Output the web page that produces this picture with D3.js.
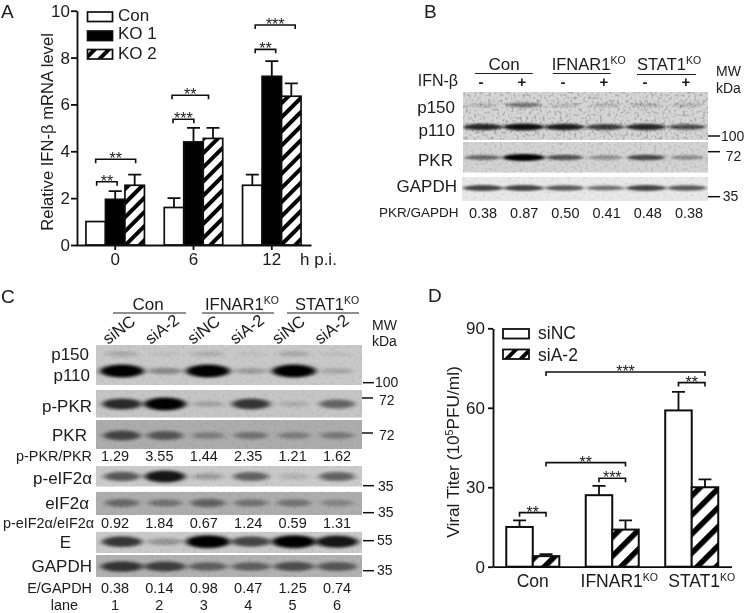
<!DOCTYPE html>
<html>
<head>
<meta charset="utf-8">
<script src="https://cdnjs.cloudflare.com/ajax/libs/d3/7.8.5/d3.min.js"></script>
<style>
html, body { margin: 0; padding: 0; background: #fff; }
svg { display: block; }
text { font-family: "Liberation Sans", Arial, sans-serif; fill: #1a1a1a; }
.axis path, .axis line { stroke: #111; stroke-width: 1.8; }
.axis text { font-size: 17px; }
</style>
</head>
<body>
<svg width="745" height="613"></svg>
<script>
//// panel A values
var hoursA = ["0", "6", "12"];
var seriesA = ["Con", "KO 1", "KO 2"];
var meanCon = [1, 1.6, 2.55];
var meanKo1 = [1.95, 4.4, 7.2];
var meanKo2 = [2.55, 4.55, 6.35];
var errCon = [1, 2.0, 3.0];
var errKo1 = [2.3, 5.0, 7.85];
var errKo2 = [3.0, 5.0, 6.9];
var bracketsA = [
  [0, 0.05, 1.1, 2.7, "**"], [0, 0, 2.05, 3.66, "**"],
  [1, -0.05, 1.02, 5.37, "***"], [1, -0.1, 1.77, 6.39, "**"],
  [2, 0.15, 1.2, 8.35, "**"], [2, 0.15, 2.2, 9.39, "***"]
];

//// panel D values
var groupsD = ["Con", "IFNAR1", "STAT1"];
var seriesD = ["siNC", "siA-2"];
var meanNC = [15, 27, 59];
var meanSi = [4, 14, 30];
var errNC = [17.5, 30.5, 66];
var errSi = [4.7, 17.5, 33];
// from group, bar, to group, bar, level, stars
var bracketsD = [
  [0, 0, 0, 1, 20.4, "**"], [1, 0, 1, 1, 33.4, "***"], [0, 1, 1, 1, 39.3, "**"],
  [2, 0, 2, 1, 69.5, "**"], [0, 1, 2, 1, 73.5, "***"]
];

//// panel B blot
var groupsB = ["Con", "IFNAR1", "STAT1"];
var signsB = ["-", "+", "-", "+", "-", "+"];
var p150B = [0.14, 0.42, 0.1, 0.12, 0.16, 0.14];
var p110B = [0.8, 0.92, 0.85, 0.7, 0.8, 0.62];
var pkrB = [0.5, 1, 0.6, 0.32, 0.65, 0.32];
var gapdhB = [0.7, 0.7, 0.6, 0.5, 0.7, 0.6];
var ratioB = ["0.38", "0.87", "0.50", "0.41", "0.48", "0.38"];

//// panel C blot
var lanesC = ["siNC", "siA-2", "siNC", "siA-2", "siNC", "siA-2"];
var p150C = [0.14, 0.02, 0.12, 0.02, 0.14, 0.02];
var p110C = [1, 0.3, 1, 0.2, 1, 0.15];
var pPkrC = [0.78, 1, 0.15, 0.72, 0.1, 0.48];
var pkrC = [0.6, 0.5, 0.25, 0.32, 0.25, 0.28];
var pEifC = [0.55, 0.9, 0.2, 0.5, 0.1, 0.5];
var eifC = [0.38, 0.32, 0.42, 0.32, 0.32, 0.22];
var eC = [0.72, 0.25, 1, 0.65, 1, 0.9];
var gapdhC = [0.7, 0.65, 0.45, 0.45, 0.55, 0.5];
var ratioPkr = ["1.29", "3.55", "1.44", "2.35", "1.21", "1.62"];
var ratioEif = ["0.92", "1.84", "0.67", "1.24", "0.59", "1.31"];
var ratioE = ["0.38", "0.14", "0.98", "0.47", "1.25", "0.74"];
var laneNo = ["1", "2", "3", "4", "5", "6"];

var svg = d3.select("svg");
var defs = svg.append("defs");

function hatch(id, period, w) {
  var p = defs.append("pattern").attr("id", id)
    .attr("patternUnits", "userSpaceOnUse")
    .attr("width", period).attr("height", period)
    .attr("patternTransform", "rotate(45)");
  p.append("rect").attr("width", period).attr("height", period).attr("fill", "#fff");
  p.append("rect").attr("width", w).attr("height", period).attr("fill", "#000");
}
hatch("hatchA", 10, 4);
hatch("hatchD", 13.5, 5.5);

defs.append("filter").attr("id", "soft").attr("x", "0").attr("y", "0").attr("width", "100%").attr("height", "100%")
  .append("feGaussianBlur").attr("stdDeviation", 0.35);
defs.append("filter").attr("id", "band").attr("x", "-30%").attr("y", "-100%").attr("width", "160%").attr("height", "300%")
  .append("feGaussianBlur").attr("stdDeviation", "3 1.4");
defs.append("filter").attr("id", "bandThin").attr("x", "-30%").attr("y", "-100%").attr("width", "160%").attr("height", "300%")
  .append("feGaussianBlur").attr("stdDeviation", "2 0.8");

// speckle over the blots
var sp = defs.append("filter").attr("id", "speckle").attr("x", "0").attr("y", "0").attr("width", "100%").attr("height", "100%");
sp.append("feTurbulence").attr("type", "fractalNoise").attr("baseFrequency", 0.35).attr("numOctaves", 2).attr("seed", 4);
sp.append("feColorMatrix").attr("values", "0 0 0 0 0  0 0 0 0 0  0 0 0 0 0  2.6 0 0 0 -1.25");

var root = svg.append("g").attr("filter", "url(#soft)");

function label(parent, str, x, y, size, anchor) {
  return parent.append("text").attr("x", x).attr("y", y)
    .style("font-size", size + "px")
    .attr("text-anchor", anchor || "start")
    .text(str);
}

// name with the small KO on top
function koLabel(parent, str, x, y, size) {
  var t = label(parent, str, x, y, size);
  t.append("tspan").attr("dy", -6).style("font-size", "10.5px").text("KO");
  return t;
}

function bracket(parent, x0, x1, y, stars) {
  parent.append("path")
    .attr("d", "M" + x0 + "," + (y + 4) + "V" + y + "H" + x1 + "V" + (y + 4))
    .attr("fill", "none").attr("stroke", "#111").attr("stroke-width", 1.6);
  label(parent, stars, (x0 + x1) / 2, y + 5, 16, "middle");
}

function errorBar(parent, cx, y0, y1, cap) {
  parent.append("path")
    .attr("d", "M" + cx + "," + y0 + "V" + y1 + "M" + (cx - cap) + "," + y1 + "H" + (cx + cap))
    .attr("fill", "none").attr("stroke", "#111").attr("stroke-width", 1.8);
}

///// PANEL A

var gA = root.append("g");
var yA = d3.scaleLinear().domain([0, 10]).range([245, 10.7]);
var xA = d3.scaleBand().domain(hoursA).range([76, 311]).paddingInner(0.253).paddingOuter(0.127);
var subA = d3.scaleBand().domain(seriesA).range([0, xA.bandwidth()]);
var fillA = d3.scaleOrdinal().domain(seriesA).range(["#fff", "#000", "url(#hatchA)"]);
var meansA = [meanCon, meanKo1, meanKo2];
var errsA = [errCon, errKo1, errKo2];

seriesA.forEach(function(s, si) {
  hoursA.forEach(function(h, i) {
    var bx = xA(h) + subA(s), bw = subA.bandwidth();
    if (errsA[si][i] > meansA[si][i]) errorBar(gA, bx + bw / 2, yA(meansA[si][i]), yA(errsA[si][i]), 6.5);
    gA.append("rect").attr("x", bx).attr("y", yA(meansA[si][i]))
      .attr("width", bw).attr("height", yA(0) - yA(meansA[si][i]))
      .attr("fill", fillA(s)).attr("stroke", "#111").attr("stroke-width", 1.7);
  });
});

gA.append("g").attr("class", "axis").attr("transform", "translate(77,0)")
  .call(d3.axisLeft(yA).tickValues([0, 2, 4, 6, 8, 10]).tickSize(6).tickPadding(1).tickSizeOuter(0));
gA.append("g").attr("class", "axis").attr("transform", "translate(0,245)")
  .call(d3.axisBottom(xA).tickSize(5).tickSizeOuter(0));
gA.selectAll(".axis text").style("font-size", "17px");

bracketsA.forEach(function(b) {
  var bw = subA.bandwidth(), x0 = xA(hoursA[b[0]]);
  bracket(gA, x0 + bw * (b[1] + 0.5), x0 + bw * (b[2] + 0.5), yA(b[3]), b[4]);
});

var legA = [[12, 20.7], [31, 39.3], [49.5, 59.3]];
seriesA.forEach(function(s, i) {
  gA.append("rect").attr("x", 87.5).attr("y", legA[i][0]).attr("width", 25).attr("height", 9.5)
    .attr("fill", fillA(s)).attr("stroke", "#111").attr("stroke-width", 1.7);
  label(gA, s, 118, legA[i][1], 17);
});

label(gA, "h p.i.", 300, 265, 17);
label(gA, "Relative IFN-\u03b2 mRNA level", 0, 0, 16.6, "middle")
  .attr("transform", "translate(53,132) rotate(-90)");
label(root, "A", 1, 17.5, 19);

///// BLOTS

var bandOpacity = d3.scaleLinear().domain([0, 1]).range([0.03, 1]);

function blotRow(parent, x0, x1, top, bottom, bg, speckle, bands, lane, rx, ryScale, blur) {
  var id = "clip" + Math.round(x0) + "_" + Math.round(top);
  defs.append("clipPath").attr("id", id).append("rect")
    .attr("x", x0).attr("y", top).attr("width", x1 - x0).attr("height", bottom - top);
  var g = parent.append("g").attr("clip-path", "url(#" + id + ")");
  g.append("rect").attr("x", x0).attr("y", top).attr("width", x1 - x0).attr("height", bottom - top).attr("fill", bg);
  g.append("rect").attr("x", x0).attr("y", top).attr("width", x1 - x0).attr("height", bottom - top)
    .attr("filter", "url(#speckle)").attr("opacity", speckle);
  bands.forEach(function(b) {
    g.selectAll(null).data(b.values).enter().append("ellipse")
      .attr("cx", function(d, i) { return lane(i); })
      .attr("cy", b.y)
      .attr("rx", function(d) { return rx * (0.75 + 0.3 * d); })
      .attr("ry", function(d) { return ryScale(d); })
      .attr("fill", "#000")
      .attr("opacity", function(d) { return bandOpacity(d); })
      .attr("filter", "url(#" + (blur || "band") + ")");
  });
}

function mwTick(parent, x0, x1, y, str, tx, ty) {
  parent.append("line").attr("x1", x0).attr("x2", x1).attr("y1", y).attr("y2", y)
    .attr("stroke", "#111").attr("stroke-width", 1.5);
  label(parent, str, tx, ty, 14);
}

function headerLine(parent, x0, x1, y) {
  parent.append("line").attr("x1", x0).attr("x2", x1).attr("y1", y).attr("y2", y)
    .attr("stroke", "#222").attr("stroke-width", 1.2);
}

///// PANEL B

var gB = root.append("g");
var laneB = d3.scalePoint().domain(d3.range(6)).range([483, 687]);
var signX = d3.scalePoint().domain(d3.range(6)).range([481, 686]);
var ratioXB = d3.scalePoint().domain(d3.range(6)).range([483, 689]);
var ryB = d3.scaleLinear().domain([0, 1]).range([1.5, 3.6]);

blotRow(gB, 463, 708, 92, 140, "#d6d6d6", 0.28, [{y: 105, values: p150B}, {y: 127, values: p110B}], laneB, 20, ryB, "bandThin");
blotRow(gB, 463, 708, 142, 172.7, "#d4d4d4", 0.14, [{y: 157.5, values: pkrB}], laneB, 20, ryB, "bandThin");
blotRow(gB, 462, 708, 177, 201, "#e9e9e9", 0.08, [{y: 188, values: gapdhB}], laneB, 21, ryB, "bandThin");

label(gB, groupsB[0], 504, 69.5, 17, "middle");
koLabel(gB, groupsB[1], 551.7, 69.5, 16.5);
koLabel(gB, groupsB[2], 637, 69.5, 16.5);
headerLine(gB, 475, 532.7, 73.5);
headerLine(gB, 552.7, 610.7, 73.5);
headerLine(gB, 637, 696, 74.5);

label(gB, "IFN-\u03b2", 458, 86, 16, "end");
signsB.forEach(function(s, i) {
  label(gB, s, signX(i), 87, 15, "middle").style("font-weight", "bold");
});

label(gB, "p150", 455, 112.7, 17, "end");
label(gB, "p110", 455, 136, 17, "end");
label(gB, "PKR", 453, 165.7, 17, "end");
label(gB, "GAPDH", 457, 191.7, 17, "end");
label(gB, "PKR/GAPDH", 458.5, 217, 13.5, "end");
ratioB.forEach(function(r, i) { label(gB, r, ratioXB(i), 218, 14.5, "middle"); });

label(gB, "MW", 716, 76, 14);
label(gB, "kDa", 716, 92.7, 14);
mwTick(gB, 708, 720, 136, "100", 721, 141);
mwTick(gB, 708, 720, 151.7, "72", 725.7, 160.7);
mwTick(gB, 708, 720, 196.7, "35", 722.7, 201);
label(root, "B", 424, 17.5, 19);

///// PANEL C

var gC = root.append("g");
var laneC = d3.scalePoint().domain(d3.range(6)).range([122, 337]);
var textC = d3.scalePoint().domain(d3.range(6)).range([115, 337]);
var rotC = d3.scalePoint().domain(d3.range(6)).range([108, 320]);
var ryC = d3.scaleLinear().domain([0, 1]).range([2.5, 6.5]);

blotRow(gC, 96, 362, 345, 385, "#c9c9c9", 0.07, [{y: 354, values: p150C}, {y: 371, values: p110C}], laneC, 21, d3.scaleLinear().domain([0, 1]).range([2, 6.5]));
blotRow(gC, 96, 362, 390, 417.7, "#c6c6c6", 0.07, [{y: 404, values: pPkrC}], laneC, 20, ryC);
blotRow(gC, 96, 362, 420, 449, "#adadad", 0.07, [{y: 435.5, values: pkrC}], laneC, 20, ryC);
blotRow(gC, 96, 362, 466, 486.7, "#cbcbcb", 0.07, [{y: 476.5, values: pEifC}], laneC, 20, ryC);
blotRow(gC, 96, 362, 491.7, 515, "#aeaeae", 0.07, [{y: 503, values: eifC}], laneC, 20, ryC);
blotRow(gC, 96, 362, 531.7, 553, "#cbcbcb", 0.07, [{y: 541.7, values: eC}], laneC, 21, ryC);
blotRow(gC, 96, 362, 555, 577, "#b2b2b2", 0.07, [{y: 566.5, values: gapdhC}], laneC, 22, ryC);

label(gC, "Con", 148, 310, 17, "middle");
koLabel(gC, "IFNAR1", 205, 310, 16.5);
koLabel(gC, "STAT1", 295, 310, 16.5);
headerLine(gC, 113, 186, 313);
headerLine(gC, 202, 274, 313);
headerLine(gC, 287, 359, 313);

lanesC.forEach(function(s, i) {
  label(gC, s, 0, 0, 16.5).attr("transform", "translate(" + rotC(i) + ",345) rotate(-37)");
});

label(gC, "p150", 89, 360, 17, "end");
label(gC, "p110", 90, 381, 17, "end");
label(gC, "p-PKR", 92, 412, 17, "end");
label(gC, "PKR", 87, 441, 17, "end");
label(gC, "p-eIF2\u03b1", 92, 484, 17, "end");
label(gC, "eIF2\u03b1", 89, 509, 17, "end");
label(gC, "E", 71, 548, 17, "end");
label(gC, "GAPDH", 92, 572, 17, "end");

label(gC, "p-PKR/PKR", 92, 461, 14.4, "end");
label(gC, "p-eIF2\u03b1/eIF2\u03b1", 94, 528, 14.4, "end");
label(gC, "E/GAPDH", 92, 593, 14.4, "end");
label(gC, "lane", 78, 609.8, 14.4, "end");
ratioPkr.forEach(function(r, i) { label(gC, r, textC(i), 461, 14.5, "middle"); });
ratioEif.forEach(function(r, i) { label(gC, r, textC(i), 528, 14.5, "middle"); });
ratioE.forEach(function(r, i) { label(gC, r, textC(i), 593, 14.5, "middle"); });
laneNo.forEach(function(r, i) { label(gC, r, textC(i), 609.8, 14.5, "middle"); });

label(gC, "MW", 372, 330, 14);
label(gC, "kDa", 372, 346, 14);
mwTick(gC, 363, 374, 382.7, "100", 375, 387);
mwTick(gC, 362, 373, 398, "72", 379, 405);
mwTick(gC, 362, 373, 433, "72", 379, 440);
mwTick(gC, 363, 374, 485.7, "35", 378, 491);
mwTick(gC, 363, 374, 512.7, "35", 378, 517);
mwTick(gC, 363, 374, 540.7, "55", 377, 545);
mwTick(gC, 363, 374, 570.7, "35", 377, 575);
label(root, "C", 1, 303, 19);

///// PANEL D

var gD = root.append("g");
var yD = d3.scaleLinear().domain([0, 90]).range([566.7, 328.3]);
var xD = d3.scaleBand().domain(groupsD).range([493, 731.5]).paddingInner(0.333).paddingOuter(0.167);
var subD = d3.scaleBand().domain(seriesD).range([0, xD.bandwidth()]);
var fillD = d3.scaleOrdinal().domain(seriesD).range(["#fff", "url(#hatchD)"]);
var meansD = [meanNC, meanSi];
var errsD = [errNC, errSi];

seriesD.forEach(function(s, si) {
  groupsD.forEach(function(g, i) {
    var bx = xD(g) + subD(s), bw = subD.bandwidth();
    errorBar(gD, bx + bw / 2, yD(meansD[si][i]), yD(errsD[si][i]), 6.5);
    gD.append("rect").attr("x", bx).attr("y", yD(meansD[si][i]))
      .attr("width", bw).attr("height", yD(0) - yD(meansD[si][i]))
      .attr("fill", fillD(s)).attr("stroke", "#111").attr("stroke-width", 2);
  });
});

gD.append("g").attr("class", "axis").attr("transform", "translate(493,0)")
  .call(d3.axisLeft(yD).tickValues([0, 30, 60, 90]).tickSize(5).tickSizeOuter(0));

var xAxisD = gD.append("g").attr("class", "axis").attr("transform", "translate(0,566.7)")
  .call(d3.axisBottom(xD).tickSize(0).tickSizeOuter(0));
xAxisD.selectAll("text").attr("y", 8).style("font-size", "17.5px")
  .attr("dx", function(d, i) { return [0, 7, 10][i]; })
  .each(function(d, i) {
    if (i > 0) d3.select(this).append("tspan").attr("dy", -6).style("font-size", "10.5px").text("KO");
  });

bracketsD.forEach(function(b) {
  var bw = subD.bandwidth();
  bracket(gD, xD(groupsD[b[0]]) + subD(seriesD[b[1]]) + bw / 2,
    xD(groupsD[b[2]]) + subD(seriesD[b[3]]) + bw / 2, yD(b[4]), b[5]);
});

var legD = [[329, 339], [349.5, 361]];
seriesD.forEach(function(s, i) {
  gD.append("rect").attr("x", 503).attr("y", legD[i][0]).attr("width", 26).attr("height", 9.5)
    .attr("fill", i ? "url(#hatchA)" : "#fff").attr("stroke", "#111").attr("stroke-width", 1.8);
  label(gD, s, 538, legD[i][1], 17.5);
});

var titleD = label(gD, "Viral Titer (10", 0, 0, 17.3, "middle")
  .attr("transform", "translate(459,452) rotate(-90)");
titleD.append("tspan").attr("dy", -6).style("font-size", "10.5px").text("5");
titleD.append("tspan").attr("dy", 6).text("PFU/ml)");
label(root, "D", 428, 302, 19);
</script>
</body>
</html>
